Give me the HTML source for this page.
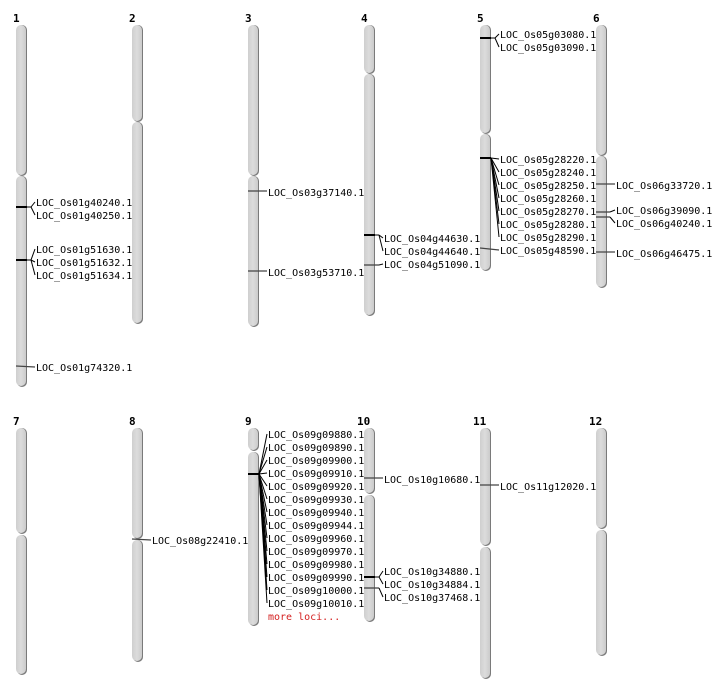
<!DOCTYPE html>
<html><head><meta charset="utf-8"><style>
html,body{margin:0;padding:0;background:#fff;}
svg{display:block;}
text{font-family:"DejaVu Sans Mono","Liberation Mono",monospace;font-size:10px;fill:#000;}
.t{font-weight:bold;font-size:11px;}
.sh{fill:#7a7a7a;}
.ch{fill:url(#g);}
.k{stroke:#000;stroke-width:2;}
.kg{stroke:#444;stroke-width:1.3;}
.f{stroke:#000;stroke-width:1;fill:none;}
</style></head><body>
<svg width="712" height="700" viewBox="0 0 712 700" xmlns="http://www.w3.org/2000/svg">
<defs><linearGradient id="g" x1="0" x2="1" y1="0" y2="0"><stop offset="0" stop-color="#cfcfcf"/><stop offset="0.5" stop-color="#dcdcdc"/><stop offset="1" stop-color="#cbcbcb"/></linearGradient></defs>
<!-- titles -->
<text class="t" x="13" y="22">1</text><text class="t" x="129" y="22">2</text><text class="t" x="245" y="22">3</text><text class="t" x="361" y="22">4</text><text class="t" x="477" y="22">5</text><text class="t" x="593" y="22">6</text>
<text class="t" x="13" y="425">7</text><text class="t" x="129" y="425">8</text><text class="t" x="245" y="425">9</text><text class="t" x="357" y="425">10</text><text class="t" x="473" y="425">11</text><text class="t" x="589" y="425">12</text>
<!-- chromosomes: shadow + body per arm -->
<g>
<!-- 1 -->
<rect class="sh" x="17" y="25" width="10" height="151" rx="5"/><rect class="ch" x="16" y="25" width="10" height="150" rx="5"/>
<rect class="sh" x="17" y="176" width="10" height="211" rx="5"/><rect class="ch" x="16" y="176" width="10" height="210" rx="5"/>
<!-- 2 -->
<rect class="sh" x="133" y="25" width="10" height="97" rx="5"/><rect class="ch" x="132" y="25" width="10" height="96" rx="5"/>
<rect class="sh" x="133" y="122" width="10" height="202" rx="5"/><rect class="ch" x="132" y="122" width="10" height="201" rx="5"/>
<!-- 3 -->
<rect class="sh" x="249" y="25" width="10" height="151" rx="5"/><rect class="ch" x="248" y="25" width="10" height="150" rx="5"/>
<rect class="sh" x="249" y="176" width="10" height="151" rx="5"/><rect class="ch" x="248" y="176" width="10" height="150" rx="5"/>
<!-- 4 -->
<rect class="sh" x="365" y="25" width="10" height="49" rx="5"/><rect class="ch" x="364" y="25" width="10" height="48" rx="5"/>
<rect class="sh" x="365" y="74" width="10" height="242" rx="5"/><rect class="ch" x="364" y="74" width="10" height="241" rx="5"/>
<!-- 5 -->
<rect class="sh" x="481" y="25" width="10" height="109" rx="5"/><rect class="ch" x="480" y="25" width="10" height="108" rx="5"/>
<rect class="sh" x="481" y="134" width="10" height="137" rx="5"/><rect class="ch" x="480" y="134" width="10" height="136" rx="5"/>
<!-- 6 -->
<rect class="sh" x="597" y="25" width="10" height="131" rx="5"/><rect class="ch" x="596" y="25" width="10" height="130" rx="5"/>
<rect class="sh" x="597" y="156" width="10" height="132" rx="5"/><rect class="ch" x="596" y="156" width="10" height="131" rx="5"/>
<!-- 7 -->
<rect class="sh" x="17" y="428" width="10" height="106" rx="5"/><rect class="ch" x="16" y="428" width="10" height="105" rx="5"/>
<rect class="sh" x="17" y="535" width="10" height="140" rx="5"/><rect class="ch" x="16" y="535" width="10" height="139" rx="5"/>
<!-- 8 -->
<rect class="sh" x="133" y="428" width="10" height="111" rx="5"/><rect class="ch" x="132" y="428" width="10" height="110" rx="5"/>
<rect class="sh" x="133" y="540" width="10" height="122" rx="5"/><rect class="ch" x="132" y="540" width="10" height="121" rx="5"/>
<!-- 9 -->
<rect class="sh" x="249" y="428" width="10" height="23" rx="5"/><rect class="ch" x="248" y="428" width="10" height="22" rx="5"/>
<rect class="sh" x="249" y="452" width="10" height="174" rx="5"/><rect class="ch" x="248" y="452" width="10" height="173" rx="5"/>
<!-- 10 -->
<rect class="sh" x="365" y="428" width="10" height="66" rx="5"/><rect class="ch" x="364" y="428" width="10" height="65" rx="5"/>
<rect class="sh" x="365" y="495" width="10" height="127" rx="5"/><rect class="ch" x="364" y="495" width="10" height="126" rx="5"/>
<!-- 11 -->
<rect class="sh" x="481" y="428" width="10" height="118" rx="5"/><rect class="ch" x="480" y="428" width="10" height="117" rx="5"/>
<rect class="sh" x="481" y="547" width="10" height="132" rx="5"/><rect class="ch" x="480" y="547" width="10" height="131" rx="5"/>
<!-- 12 -->
<rect class="sh" x="597" y="428" width="10" height="101" rx="5"/><rect class="ch" x="596" y="428" width="10" height="100" rx="5"/>
<rect class="sh" x="597" y="530" width="10" height="126" rx="5"/><rect class="ch" x="596" y="530" width="10" height="125" rx="5"/>
</g>
<!-- markers -->
<!-- chr1 -->
<line class="k" x1="16" y1="207" x2="27" y2="207"/><line class="f" x1="27" y1="207" x2="31" y2="207"/>
<line class="f" x1="31" y1="207" x2="35" y2="202"/><line class="f" x1="31" y1="207" x2="35" y2="215"/>
<text x="36" y="206">LOC_Os01g40240.1</text><text x="36" y="219">LOC_Os01g40250.1</text>
<line class="k" x1="16" y1="260" x2="27" y2="260"/><line class="f" x1="27" y1="260" x2="31" y2="260"/>
<line class="f" x1="31" y1="260" x2="35" y2="249"/><line class="f" x1="31" y1="260" x2="35" y2="262"/><line class="f" x1="31" y1="260" x2="35" y2="275"/>
<text x="36" y="253">LOC_Os01g51630.1</text><text x="36" y="266">LOC_Os01g51632.1</text><text x="36" y="279">LOC_Os01g51634.1</text>
<line class="kg" x1="16" y1="366" x2="35" y2="367"/><text x="36" y="371">LOC_Os01g74320.1</text>
<!-- chr3 -->
<line class="kg" x1="248" y1="191" x2="267" y2="191"/><text x="268" y="196">LOC_Os03g37140.1</text>
<line class="kg" x1="248" y1="271" x2="267" y2="271"/><text x="268" y="276">LOC_Os03g53710.1</text>
<!-- chr4 -->
<line class="k" x1="364" y1="235" x2="375" y2="235"/><line class="f" x1="375" y1="235" x2="379" y2="235"/>
<line class="f" x1="379" y1="235" x2="383" y2="238"/><line class="f" x1="379" y1="235" x2="383" y2="251"/>
<line class="kg" x1="364" y1="265" x2="379" y2="265"/><line class="f" x1="379" y1="265" x2="383" y2="264"/>
<text x="384" y="242">LOC_Os04g44630.1</text><text x="384" y="255">LOC_Os04g44640.1</text><text x="384" y="268">LOC_Os04g51090.1</text>
<!-- chr5 -->
<line class="k" x1="480" y1="38" x2="491" y2="38"/><line class="f" x1="491" y1="38" x2="495" y2="38"/>
<line class="f" x1="495" y1="38" x2="499" y2="34"/><line class="f" x1="495" y1="38" x2="499" y2="47"/>
<text x="500" y="38">LOC_Os05g03080.1</text><text x="500" y="51">LOC_Os05g03090.1</text>
<line class="k" x1="480" y1="158" x2="491" y2="158"/>
<line class="f" x1="491" y1="158" x2="499" y2="159"/><line class="f" x1="491" y1="158" x2="499" y2="172"/><line class="f" x1="491" y1="158" x2="499" y2="185"/><line class="f" x1="491" y1="158" x2="499" y2="198"/><line class="f" x1="491" y1="158" x2="499" y2="211"/><line class="f" x1="491" y1="158" x2="499" y2="224"/><line class="f" x1="491" y1="158" x2="499" y2="237"/>
<text x="500" y="163">LOC_Os05g28220.1</text><text x="500" y="176">LOC_Os05g28240.1</text><text x="500" y="189">LOC_Os05g28250.1</text><text x="500" y="202">LOC_Os05g28260.1</text><text x="500" y="215">LOC_Os05g28270.1</text><text x="500" y="228">LOC_Os05g28280.1</text><text x="500" y="241">LOC_Os05g28290.1</text>
<line class="kg" x1="480" y1="248" x2="499" y2="250"/><text x="500" y="254">LOC_Os05g48590.1</text>
<!-- chr6 -->
<line class="kg" x1="596" y1="184" x2="615" y2="184"/><text x="616" y="189">LOC_Os06g33720.1</text>
<line class="kg" x1="596" y1="212" x2="610" y2="212"/><line class="f" x1="610" y1="212" x2="615" y2="210"/>
<line class="kg" x1="596" y1="217" x2="610" y2="217"/><line class="f" x1="610" y1="217" x2="615" y2="223"/>
<text x="616" y="214">LOC_Os06g39090.1</text><text x="616" y="227">LOC_Os06g40240.1</text>
<line class="kg" x1="596" y1="252" x2="615" y2="252"/><text x="616" y="257">LOC_Os06g46475.1</text>
<!-- chr8 -->
<line class="kg" x1="132" y1="539" x2="151" y2="540"/><text x="152" y="544">LOC_Os08g22410.1</text>
<!-- chr9 -->
<line class="k" x1="248" y1="474" x2="259" y2="474"/>
<g class="f">
<line x1="259" y1="474" x2="267" y2="434"/><line x1="259" y1="474" x2="267" y2="447"/><line x1="259" y1="474" x2="267" y2="460"/><line x1="259" y1="474" x2="267" y2="473"/><line x1="259" y1="474" x2="267" y2="486"/><line x1="259" y1="474" x2="267" y2="499"/><line x1="259" y1="474" x2="267" y2="512"/><line x1="259" y1="474" x2="267" y2="525"/><line x1="259" y1="474" x2="267" y2="538"/><line x1="259" y1="474" x2="267" y2="551"/><line x1="259" y1="474" x2="267" y2="564"/><line x1="259" y1="474" x2="267" y2="577"/><line x1="259" y1="474" x2="267" y2="590"/><line x1="259" y1="474" x2="267" y2="603"/>
</g>
<text x="268" y="438">LOC_Os09g09880.1</text><text x="268" y="451">LOC_Os09g09890.1</text><text x="268" y="464">LOC_Os09g09900.1</text><text x="268" y="477">LOC_Os09g09910.1</text><text x="268" y="490">LOC_Os09g09920.1</text><text x="268" y="503">LOC_Os09g09930.1</text><text x="268" y="516">LOC_Os09g09940.1</text><text x="268" y="529">LOC_Os09g09944.1</text><text x="268" y="542">LOC_Os09g09960.1</text><text x="268" y="555">LOC_Os09g09970.1</text><text x="268" y="568">LOC_Os09g09980.1</text><text x="268" y="581">LOC_Os09g09990.1</text><text x="268" y="594">LOC_Os09g10000.1</text><text x="268" y="607">LOC_Os09g10010.1</text>
<text x="268" y="620" style="fill:#d42020">more loci...</text>
<!-- chr10 -->
<line class="kg" x1="364" y1="478" x2="383" y2="478"/><text x="384" y="483">LOC_Os10g10680.1</text>
<line class="k" x1="364" y1="577" x2="375" y2="577"/><line class="f" x1="375" y1="577" x2="379" y2="577"/>
<line class="f" x1="379" y1="577" x2="383" y2="571"/><line class="f" x1="379" y1="577" x2="383" y2="584"/>
<line class="kg" x1="364" y1="588" x2="379" y2="588"/><line class="f" x1="379" y1="588" x2="383" y2="597"/>
<text x="384" y="575">LOC_Os10g34880.1</text><text x="384" y="588">LOC_Os10g34884.1</text><text x="384" y="601">LOC_Os10g37468.1</text>
<!-- chr11 -->
<line class="kg" x1="480" y1="485" x2="499" y2="485"/><text x="500" y="490">LOC_Os11g12020.1</text>
</svg>
</body></html>
